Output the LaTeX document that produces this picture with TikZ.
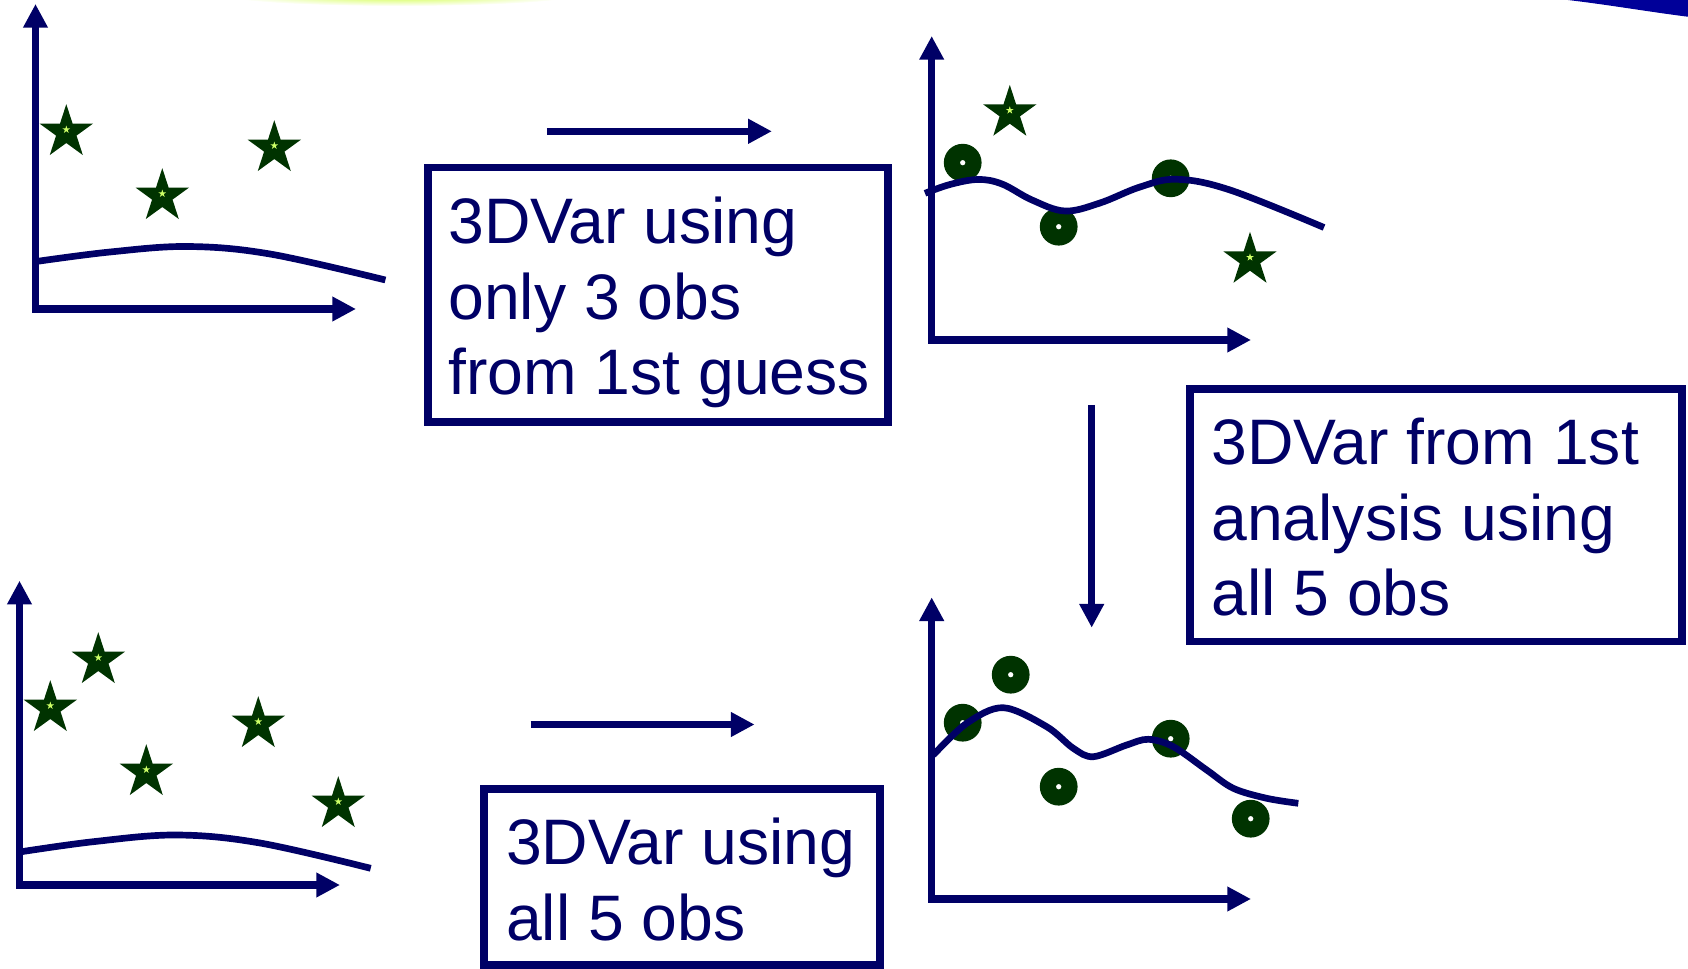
\documentclass[tikz,border=0pt]{standalone}
\usepackage{fontspec}
\setmainfont{Liberation Sans}
\usetikzlibrary{arrows.meta,shapes.geometric}

\definecolor{navy}{HTML}{000066}
\definecolor{obsgreen}{HTML}{003300}
\definecolor{starcore}{HTML}{CCFF66}
\definecolor{cornerblue}{HTML}{000099}
\definecolor{glow}{HTML}{CCFF33}

\begin{document}
\begin{tikzpicture}[x=0.02cm,y=-0.02cm,
  >={Triangle[length=13.5pt,width=13.3pt]},
  axes/.style={navy,line width=4.3pt,line join=miter,<->},
  flow/.style={navy,line width=4.3pt,->},
  field/.style={navy,line width=3.8pt,line join=round},
  obsstar/.style={star,star points=5,star point ratio=2.618,minimum size=32pt,
    inner sep=0pt,fill=obsgreen,
    path picture={\node[star,star points=5,star point ratio=2.618,minimum size=4.6pt,
      inner sep=0pt,fill=starcore] at (path picture bounding box.center) {};}},
  obsdot/.style={circle,minimum size=21.5pt,inner sep=0pt,fill=obsgreen,
    path picture={\fill[white] (path picture bounding box.center) circle (1.5pt);}},
  box/.style={rectangle,draw=navy,line width=4.5pt,inner sep=0pt},
  caption/.style={anchor=base west,inner sep=0pt,align=left,text=navy,
    font=\fontsize{36.6pt}{43.2pt}\selectfont}
]
\useasboundingbox (0,0) rectangle (1688,969);

% decorations along the top edge
\shade[inner color=glow,outer color=white] (400,-5) ellipse (175 and 11);
\fill[cornerblue] (1568,0) .. controls (1610,5) and (1650,12) .. (1690,17) -- (1690,0) -- cycle;

% ---------- first guess with three observations ----------
\coordinate (o1) at (35.5,309);
\coordinate (y1) at (35.5,4);
\coordinate (x1) at (356,309);
\draw[axes] (y1) -- (o1) -- (x1);
\draw[field] plot[smooth,tension=0.6] coordinates
  {(35.5,261.6) (110,252) (188,246.5) (270,254) (385.4,280)};
\node[obsstar] (s11) at (66.3,132.3) {};
\node[obsstar] (s12) at (162.3,196.3) {};
\node[obsstar] (s13) at (274.3,148.3) {};

% ---------- first analysis ----------
\coordinate (o2) at (931.7,340);
\coordinate (y2) at (931.7,36);
\coordinate (x2) at (1251,340);
\draw[axes] (y2) -- (o2) -- (x2);
\node[obsdot] (c21) at (962.7,162.7) {};
\node[obsdot] (c22) at (1058.7,226.7) {};
\node[obsdot] (c23) at (1170.7,178.3) {};
\draw[field] plot[smooth,tension=0.6] coordinates
  {(925,193.3) (950,184.5) (978,179.5) (1002,184) (1032,200) (1065,211)
   (1100,203) (1140,187) (1176.7,179.3) (1230,190) (1324,227.5)};
\node[obsstar] (s21) at (1009.8,113) {};
\node[obsstar] (s22) at (1250,260) {};

% ---------- first guess with five observations ----------
\coordinate (o3) at (19.5,885);
\coordinate (y3) at (19.5,580.7);
\coordinate (x3) at (340,885);
\draw[axes] (y3) -- (o3) -- (x3);
\draw[field] plot[smooth,tension=0.6] coordinates
  {(19.5,852) (95,841.5) (177,835) (260,843) (370.7,868.3)};
\node[obsstar] (s31) at (50.3,708.3) {};
\node[obsstar] (s32) at (98.3,660.3) {};
\node[obsstar] (s33) at (146.3,772.3) {};
\node[obsstar] (s34) at (258.3,724.3) {};
\node[obsstar] (s35) at (338.3,804.3) {};

% ---------- final analysis ----------
\coordinate (o4) at (931.7,899);
\coordinate (y4) at (931.7,597.3);
\coordinate (x4) at (1251,899);
\draw[axes] (y4) -- (o4) -- (x4);
\node[obsdot] (c41) at (962.7,722.7) {};
\node[obsdot] (c42) at (1010.7,674.7) {};
\node[obsdot] (c43) at (1058.7,786.7) {};
\node[obsdot] (c44) at (1170.7,738.7) {};
\node[obsdot] (c45) at (1250.7,818.7) {};
\draw[field] plot[smooth,tension=0.55] coordinates
  {(933.3,755) (966.7,723.3) (1003.3,707.7) (1046.7,726.7) (1073.3,748.3)
   (1093.3,756.7) (1126.7,745) (1148.3,739.3) (1173.3,746.7) (1206.7,770)
   (1233.3,788.3) (1266.7,798.3) (1298.3,803.3)};

% ---------- process arrows ----------
\coordinate (a1s) at (546.9,131.3);
\coordinate (a1e) at (771.9,131.3);
\draw[flow] (a1s) -- (a1e);
\coordinate (a2s) at (1091.7,404.8);
\coordinate (a2e) at (1091.7,627.7);
\draw[flow] (a2s) -- (a2e);
\coordinate (a3s) at (530.7,724.5);
\coordinate (a3e) at (754.6,724.5);
\draw[flow] (a3s) -- (a3e);

% ---------- boxes and their texts (anchored at the last baseline) ----------
\node[box,minimum width=261.9pt,minimum height=144.8pt] (b1) at (658,294.75) {};
\node[caption] (t1) at (448,395) {3DVar using\\only 3 obs\\from 1st guess};

\node[box,minimum width=280.2pt,minimum height=143.5pt] (b2) at (1436.15,515.4) {};
\node[caption] (t2) at (1211,616) {3DVar from 1st\\analysis using\\all 5 obs};

\node[box,minimum width=225.6pt,minimum height=100.2pt] (b3) at (682.25,877.15) {};
\node[caption] (t3) at (505.8,940.7) {3DVar using\\all 5 obs};
\end{tikzpicture}
\end{document}
